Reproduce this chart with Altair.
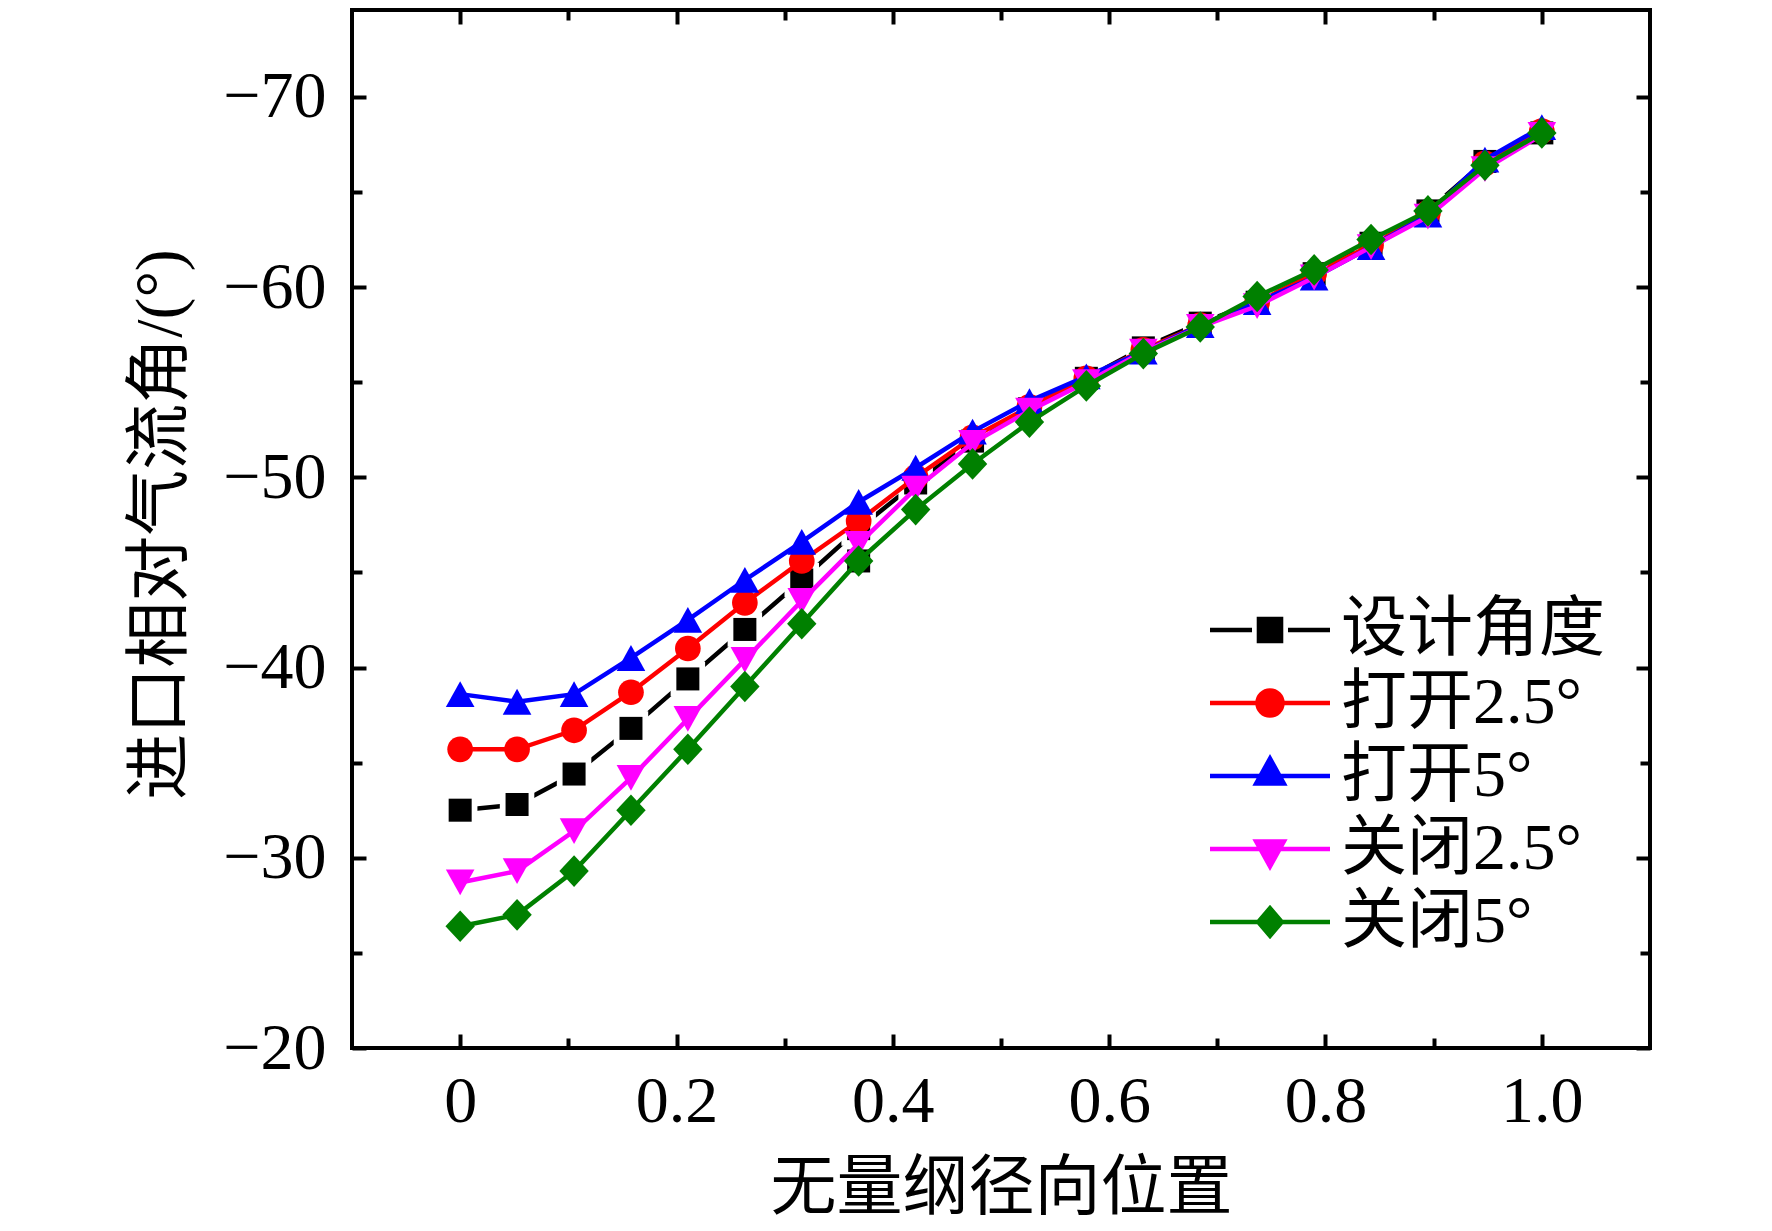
import altair as alt
import pandas as pd

# ---------------- data ----------------
x_pos = [0, 0.0526, 0.1053, 0.1579, 0.2105, 0.2632, 0.3158, 0.3684, 0.4211, 0.4737,
         0.5263, 0.5789, 0.6316, 0.6842, 0.7368, 0.7895, 0.8421, 0.8947, 0.9474, 1.0]

series_names = ["设计角度", "打开2.5°", "打开5°", "关闭2.5°", "关闭5°"]

design = [-32.5, -32.8, -34.4, -36.8, -39.4, -42.0, -44.6, -47.3, -49.7, -51.9,
          -53.6, -55.2, -56.8, -58.1, -59.2, -60.7, -62.3, -64.0, -66.6, -68.1]
open25 = [-35.7, -35.7, -36.7, -38.7, -41.0, -43.4, -45.6, -47.7, -50.0, -52.1,
          -53.7, -55.2, -56.7, -58.0, -59.2, -60.7, -62.2, -63.9, -66.5, -68.2]
open5 = [-38.6, -38.2, -38.6, -40.5, -42.5, -44.6, -46.6, -48.7, -50.5, -52.4,
         -54.0, -55.3, -56.6, -58.0, -59.2, -60.5, -62.1, -63.8, -66.7, -68.4]
close25 = [-28.7, -29.3, -31.4, -34.2, -37.3, -40.4, -43.5, -46.5, -49.4, -51.8,
           -53.5, -55.0, -56.6, -57.9, -59.0, -60.5, -62.1, -63.7, -66.2, -68.0]
close5 = [-26.4, -27.0, -29.3, -32.5, -35.7, -39.0, -42.3, -45.6, -48.3, -50.7,
          -52.9, -54.8, -56.5, -57.9, -59.5, -60.9, -62.5, -64.0, -66.4, -68.1]

# stray marker of the design curve visible near x = 0.37
design_extra_x = [0.3684]
design_extra_y = [-45.6]

x_label_values = [0, 0.2, 0.4, 0.6, 0.8, 1.0]
x_tick_values = [0, 0.1, 0.2, 0.3, 0.4, 0.5, 0.6, 0.7, 0.8, 0.9, 1.0]
y_label_values = [-70, -60, -50, -40, -30, -20]
y_tick_values = [-70, -65, -60, -55, -50, -45, -40, -35, -30, -25, -20]

colors = ["#000000", "#FF0000", "#0000FF", "#FF00FF", "#008000"]

# ---------------- tables ----------------
all_series = [design, open25, open5, close25, close5]
rows = []
for name, vals in zip(series_names, all_series):
    for xv, yv in zip(x_pos, vals):
        rows.append({"x": xv, "y": yv, "series": name})
df = pd.DataFrame(rows)
df_extra = pd.DataFrame({"x": design_extra_x, "y": design_extra_y})

# ---------------- styling ----------------
FONT = "'Liberation Serif', 'Noto Sans CJK SC', serif"
W, H = 1298, 1038
FS = 66
LW = 4.5

xs = alt.Scale(domain=[-0.1, 1.1], nice=False, zero=False)
ys = alt.Scale(domain=[-74.56, -20], reverse=True, nice=False, zero=False)

x_major_test = "abs(datum.value*5 - round(datum.value*5)) < 0.001"
y_major_test = "abs(datum.value/10 - round(datum.value/10)) < 0.001"

def tick_axis(orient, offset, values, test):
    return alt.Axis(orient=orient, offset=offset, values=values, labels=False,
                    domain=False, grid=False, ticks=True, tickColor="black",
                    tickWidth=4, title=None,
                    tickSize={"condition": {"test": test, "value": 14}, "value": 10})

x_label_axis = alt.Axis(orient="bottom", values=x_label_values, ticks=False, tickSize=0,
                        domain=False, grid=False,
                        labelExpr="datum.value == 0 ? '0' : format(datum.value, '.1f')",
                        labelFont=FONT, labelFontSize=FS, labelColor="black", labelPadding=21,
                        labelFlush=False, labelOverlap=False,
                        titleFont=FONT, titleFontSize=FS, titleFontWeight="normal",
                        titleColor="black", titleY=140, titleBaseline="middle")
y_label_axis = alt.Axis(orient="left", values=y_label_values, ticks=False, tickSize=0,
                        domain=False, grid=False,
                        labelFont=FONT, labelFontSize=FS, labelColor="black", labelPadding=26,
                        labelFlush=False, labelOverlap=False,
                        titleFont=FONT, titleFontSize=FS, titleFontWeight="normal",
                        titleColor="black", titleX=-192, titleY=514, titleAngle=270,
                        titleBaseline="middle", titleAlign="center")

xb_in = tick_axis("top", -H, x_tick_values, x_major_test)      # bottom edge, inward
xt_in = tick_axis("bottom", -H, x_tick_values, x_major_test)   # top edge, inward
yl_in = tick_axis("right", -W, y_tick_values, y_major_test)    # left edge, inward
yr_in = tick_axis("left", -W, y_tick_values, y_major_test)     # right edge, inward

base = alt.Chart(df)

def enc_x(axis=None, title=None):
    return alt.X("x:Q", scale=xs, axis=axis, title=title)

def enc_y(axis=None, title=None):
    return alt.Y("y:Q", scale=ys, axis=axis, title=title)

UP = "M0,-0.9L1,0.9L-1,0.9Z"
DOWN = "M0,0.9L1,-0.9L-1,-0.9Z"
DIAMOND = "M0,-1L0.93,0L0,1L-0.93,0Z"

layers = []
# design (black): line with gaps around the squares
layers.append(base.transform_filter(alt.datum.series == series_names[0])
              .mark_line(color=colors[0], strokeWidth=LW)
              .encode(x=enc_x(x_label_axis, "无量纲径向位置"),
                      y=enc_y(y_label_axis, "进口相对气流角/(°)")))
layers.append(base.transform_filter(alt.datum.series == series_names[0])
              .mark_point(shape="square", filled=True, color="white", size=1190, opacity=1, strokeWidth=0)
              .encode(x=enc_x(xb_in), y=enc_y(yl_in)))
layers.append(base.transform_filter(alt.datum.series == series_names[0])
              .mark_point(shape="square", filled=True, color=colors[0], size=530, opacity=1, strokeWidth=0)
              .encode(x=enc_x(xt_in), y=enc_y(yr_in)))
layers.append(alt.Chart(df_extra)
              .mark_point(shape="square", filled=True, color=colors[0], size=530, opacity=1, strokeWidth=0)
              .encode(x=enc_x(), y=enc_y()))

marker_specs = [(1, "circle", 660), (2, UP, 820), (3, DOWN, 820), (4, DIAMOND, 1000)]
for idx, shp, sz in marker_specs:
    sub = base.transform_filter(alt.datum.series == series_names[idx])
    layers.append(sub.mark_line(color=colors[idx], strokeWidth=LW)
                  .encode(x=enc_x(), y=enc_y()))
    layers.append(sub.mark_point(shape=shp, filled=True, color=colors[idx], size=sz,
                                 opacity=1, strokeWidth=0)
                  .encode(x=enc_x(), y=enc_y()))

# legend (line + marker symbols)
legend_paths = [
    "M-5,0H-1.5M1.5,0H5M-0.92,-0.92H0.92V0.92H-0.92Z",
    "M-5,0H5M1.04,0A1.04,1.04,0,1,1,-1.04,0A1.04,1.04,0,1,1,1.04,0Z",
    "M-5,0H5M0,-1.45L1.15,0.63H-1.15Z",
    "M-5,0H5M0,1.45L1.15,-0.63H-1.15Z",
    "M-5,0H5M0,-1.15L0.98,0L0,1.15L-0.98,0Z",
]
leg = alt.Legend(orient="none", legendX=885, legendY=587, title=None,
                 labelFont=FONT, labelFontSize=FS, labelColor="black", labelLimit=500,
                 labelOffset=38, rowPadding=7, padding=0, symbolSize=576,
                 symbolStrokeWidth=LW, symbolOpacity=1, direction="vertical")
layers.append(base.transform_filter("false")
              .mark_point(filled=True, opacity=1, size=576, strokeWidth=LW)
              .encode(x=enc_x(), y=enc_y(),
                      shape=alt.Shape("series:N", scale=alt.Scale(domain=series_names, range=legend_paths), legend=leg),
                      fill=alt.Fill("series:N", scale=alt.Scale(domain=series_names, range=colors), legend=leg),
                      stroke=alt.Stroke("series:N", scale=alt.Scale(domain=series_names, range=colors), legend=leg)))

chart = (alt.layer(*layers)
         .resolve_axis(x="independent", y="independent")
         .properties(width=W, height=H,
                     padding={"left": 344, "top": 2, "right": 100, "bottom": 175},
                     autosize=alt.AutoSizeParams(type="none"),
                     background="white")
         .configure_view(stroke="black", strokeWidth=4))

chart.save("out.html", embed_options={"renderer": "svg", "actions": False})
